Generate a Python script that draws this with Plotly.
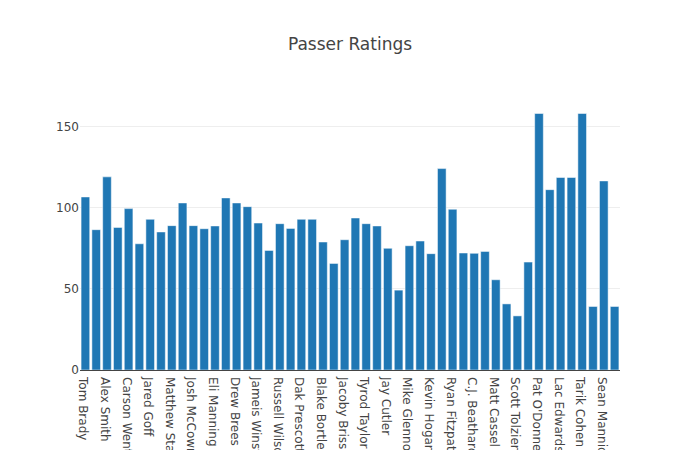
import plotly.graph_objects as go

# only every other name shows on the axis, the hidden ones are filled in
players = [
    'Tom Brady', 'Ben Roethlisberger', 'Alex Smith', 'Philip Rivers',
    'Carson Wentz', 'Kirk Cousins', 'Jared Goff', 'Case Keenum',
    'Matthew Stafford', 'Deshaun Watson', 'Josh McCown', 'Cam Newton',
    'Eli Manning', 'Derek Carr', 'Drew Brees', 'Aaron Rodgers',
    'Jameis Winston', 'Marcus Mariota', 'Russell Wilson', 'Andy Dalton',
    'Dak Prescott', 'Joe Flacco', 'Blake Bortles', 'Trevor Siemian',
    'Jacoby Brissett', 'Carson Palmer', 'Tyrod Taylor', 'Matt Ryan',
    'Jay Cutler', 'DeShone Kizer', 'Mike Glennon', 'Brian Hoyer',
    'Kevin Hogan', 'Mitchell Trubisky', 'Ryan Fitzpatrick', 'Brett Hundley',
    'C.J. Beathard', 'Tom Savage', 'Matt Cassel', 'Josh Johnson',
    'Scott Tolzien', 'Drew Stanton', "Pat O'Donnell", 'Brock Osweiler',
    'Lac Edwards', 'Blaine Gabbert', 'Tarik Cohen', 'Matt Moore',
    'Sean Mannion', 'Nathan Peterman',
]

ratings = [
    106.8, 86.6, 119.2, 88.0, 99.6, 77.9, 93.0, 85.2, 89.1, 103.1,
    89.1, 87.2, 88.9, 106.2, 103.1, 100.8, 90.7, 73.8, 90.3, 87.4,
    93.0, 93.0, 79.0, 65.8, 80.4, 93.8, 90.3, 88.9, 75.1, 49.3,
    76.7, 79.6, 71.8, 124.3, 99.2, 72.2, 72.0, 73.2, 55.7, 40.8,
    33.4, 66.6, 158.3, 111.3, 118.8, 118.8, 158.3, 39.2, 116.7, 39.2,
]

trace = go.Bar(
    x=players,
    y=ratings,
    marker=dict(color='#1f77b4', line=dict(color='white', width=0.5)),
)

layout = go.Layout(
    template='none',
    title=dict(text='Passer Ratings'),
    font=dict(family='Verdana, DejaVu Sans, sans-serif', color='#444'),
    width=700,
    height=450,
    margin=dict(l=80, r=80, t=100, b=80),
    xaxis=dict(automargin=False),
    yaxis=dict(automargin=False),
)

fig = go.Figure(data=[trace], layout=layout)

# drop the page's default body margin so the chart sits at the top-left corner
fig.write_html('out.html', config={'displayModeBar': False},
               post_script="document.body.style.margin = '0';")
